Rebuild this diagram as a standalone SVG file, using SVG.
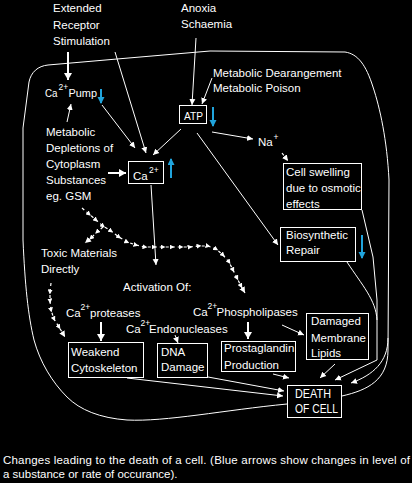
<svg xmlns="http://www.w3.org/2000/svg" width="412" height="483" viewBox="0 0 412 483">
<defs>
<style>
text{fill:#fff;font-family:"Liberation Sans",Arial,sans-serif;font-size:11.5px}
.sup{font-size:8.5px}
.big{font-size:13px}
.box{fill:none;stroke:#fff;stroke-width:1}
.ln{fill:none;stroke:#fff;stroke-width:1}
.thk{fill:none;stroke:#fff;stroke-width:2}
.dot{fill:none;stroke:#fff;stroke-width:1.2;stroke-dasharray:3 3}
.blue{fill:none;stroke:#20a4dc;stroke-width:2}
</style>
<marker id="ah" markerUnits="userSpaceOnUse" markerWidth="7" markerHeight="7" refX="6" refY="3.5" orient="auto"><path d="M0,0.5 L6,3.5 L0,6.5 z" fill="#fff"/></marker>
<marker id="ahb" markerUnits="userSpaceOnUse" markerWidth="8" markerHeight="8" refX="7" refY="4" orient="auto"><path d="M0,0 L7,4 L0,8 z" fill="#fff"/></marker>
<marker id="am" markerUnits="userSpaceOnUse" markerWidth="5" markerHeight="5" refX="2.5" refY="2.5" orient="auto"><path d="M0,0 L5,2.5 L0,5 z" fill="#fff"/></marker>
<marker id="abl" markerUnits="userSpaceOnUse" markerWidth="8" markerHeight="8" refX="6" refY="3.5" orient="auto"><path d="M0,0 L7,3.5 L0,7 z" fill="#20a4dc"/></marker>
</defs>
<rect width="412" height="483" fill="#000"/>

<g id="cell-outline">
<path class="ln" d="M287,404 C225,410 165,422 127,420 C100,418 80,410 67,397 C52,382 40,362 34,340 C28,315 25,285 23,240 L23,128 L29,82 C31,72 38,66 48,65 L117,59 L210,51 L345,52 C358,54 366,65 373,87 C380,108 387,140 389,180 L388,350 C388,380 368,390 342,396"/>
</g>

<g id="connectors">
<line class="thk" x1="68" y1="52" x2="68" y2="80" marker-end="url(#ahb)"/>
<line class="ln" x1="115" y1="52" x2="146" y2="153" marker-end="url(#ah)"/>
<line class="ln" x1="102" y1="105" x2="135" y2="148" marker-end="url(#ah)"/>
<line class="ln" x1="67" y1="122" x2="71" y2="104" marker-end="url(#ah)"/>
<line class="ln" x1="196" y1="38" x2="192" y2="105" stroke-width="1.5" marker-end="url(#ah)"/>
<line class="ln" x1="212" y1="78" x2="202" y2="104" marker-end="url(#ah)"/>
<line class="ln" x1="181" y1="129" x2="153" y2="155" marker-end="url(#ah)"/>
<line class="ln" x1="212" y1="132" x2="253" y2="139" marker-end="url(#ah)"/>
<line class="ln" x1="197" y1="133" x2="278" y2="245" marker-end="url(#ah)"/>
<line class="dot" x1="282" y1="153" x2="288" y2="161" marker-end="url(#ah)"/>
<line class="thk" x1="108" y1="173" x2="126" y2="173" marker-end="url(#ahb)"/>
<line class="ln" x1="151" y1="185" x2="156" y2="265" marker-end="url(#ah)"/>
<line class="thk" x1="101" y1="322" x2="101" y2="341" marker-end="url(#ahb)"/>
<line class="ln" x1="175" y1="335" x2="178" y2="343" marker-end="url(#ah)"/>
<line class="thk" x1="248" y1="322" x2="248" y2="339" marker-end="url(#ahb)"/>
<line class="ln" x1="282" y1="325" x2="304" y2="335" marker-end="url(#ah)"/>
<line class="ln" x1="127" y1="378" x2="283" y2="396" marker-end="url(#ah)"/>
<line class="ln" x1="208" y1="377" x2="284" y2="391" marker-end="url(#ah)"/>
<line class="ln" x1="273" y1="374" x2="289" y2="378" marker-end="url(#ah)"/>
<line class="ln" x1="335" y1="364" x2="320" y2="378" marker-end="url(#ah)"/>
<path class="ln" d="M362,210 L373,257 L377,300 L377,360 L335,380" marker-end="url(#ah)"/>
<path class="ln" d="M347,262 C362,285 376,300 377,320"/>
<path class="ln" d="M388,338 C388,362 373,375 351,383" marker-end="url(#ah)"/>
<path class="dot" d="M82,208 L89,214 L96,220 L103,226 L111,231 L119,237 L127,242 L136,245 L145,247 L154,247 L163,247 L172,247 L181,247 L190,247 L199,246 L208,246 L216,249 L223,255 L229,262 L233,270 L237,278 L241,286 L245,293" marker-mid="url(#am)" marker-end="url(#ah)"/>
<path class="dot" d="M103,227 L97,232 L91,238 L85,243" marker-mid="url(#am)" marker-end="url(#ah)"/>
<path class="dot" d="M51,283 L50,292 L50,301 L51,310 L54,319 L59,327 L65,337" marker-mid="url(#am)" marker-end="url(#ah)"/>
<line class="blue" x1="101" y1="89" x2="101" y2="103" marker-end="url(#abl)"/>
<line class="blue" x1="213" y1="107" x2="213" y2="126" marker-end="url(#abl)"/>
<line class="blue" x1="171" y1="178" x2="171" y2="159" marker-end="url(#abl)"/>
<line class="blue" x1="362" y1="235" x2="362" y2="258" marker-end="url(#abl)"/>
</g>

<g id="extended-receptor"><text x="53" y="12">Extended</text><text x="53" y="28.5">Receptor</text><text x="53" y="45">Stimulation</text></g>
<g id="anoxia"><text x="181" y="12">Anoxia</text><text x="181" y="28">Schaemia</text></g>
<g id="ca-pump"><text x="45" y="97" textLength="12.5" lengthAdjust="spacingAndGlyphs">Ca</text><text class="sup" x="58.5" y="90">2+</text><text x="68.5" y="97" textLength="28.5" lengthAdjust="spacingAndGlyphs">Pump</text></g>
<g id="metabolic-poison"><text x="213" y="77">Metabolic Dearangement</text><text x="213" y="92">Metabolic Poison</text></g>
<g id="atp"><rect class="box" x="179.5" y="105.5" width="27" height="18"/><text x="184" y="120" font-size="12.5" textLength="19" lengthAdjust="spacingAndGlyphs">ATP</text></g>
<g id="na"><text x="258" y="146">Na</text><text class="sup" x="273.5" y="140">+</text></g>
<g id="depletions"><text x="46" y="136">Metabolic</text><text x="46" y="152">Depletions of</text><text x="46" y="168">Cytoplasm</text><text x="46" y="184">Substances</text><text x="46" y="200">eg. GSM</text></g>
<g id="ca"><rect class="box" x="128.5" y="161.5" width="35" height="22"/><text x="133" y="180" font-size="12">Ca</text><text class="sup" x="149" y="173" font-size="9">2+</text></g>
<g id="cell-swelling"><rect class="box" x="283.5" y="163.5" width="78" height="46"/><text x="286" y="176">Cell swelling</text><text x="286" y="192">due to osmotic</text><text x="286" y="208">effects</text></g>
<g id="biosynthetic"><rect class="box" x="280.5" y="227.5" width="75" height="34"/><text x="286" y="239">Biosynthetic</text><text x="286" y="254">Repair</text></g>
<g id="toxic"><text x="41" y="257">Toxic Materials</text><text x="41" y="273">Directly</text></g>
<g id="activation"><text x="123" y="291">Activation Of:</text></g>
<g id="proteases"><text x="66" y="317">Ca</text><text class="sup" x="80.5" y="310">2+</text><text x="90" y="317">proteases</text></g>
<g id="endonucleases"><text x="126" y="333">Ca</text><text class="sup" x="140.5" y="326">2+</text><text x="149" y="333">Endonucleases</text></g>
<g id="phospholipases"><text x="193" y="316">Ca</text><text class="sup" x="207.5" y="309">2+</text><text x="216.5" y="316">Phospholipases</text></g>
<g id="weakend"><rect class="box" x="68.5" y="342.5" width="75" height="35"/><text x="71" y="356">Weakend</text><text x="71" y="372">Cytoskeleton</text></g>
<g id="dna"><rect class="box" x="157.5" y="343.5" width="50" height="34"/><text x="161" y="356">DNA</text><text x="161" y="371">Damage</text></g>
<g id="prostaglandin"><rect class="box" x="221.5" y="341.5" width="74" height="30"/><text x="224" y="352">Prostaglandin</text><text x="224" y="369">Production</text></g>
<g id="membrane"><rect class="box" x="306.5" y="313.5" width="62" height="46"/><text x="311" y="325">Damaged</text><text x="311" y="342">Membrane</text><text x="311" y="357">Lipids</text></g>
<g id="death"><rect class="box" x="287.5" y="385.5" width="54" height="32"/><text class="big" x="295" y="398" textLength="36" lengthAdjust="spacingAndGlyphs">DEATH</text><text class="big" x="295" y="413" textLength="43" lengthAdjust="spacingAndGlyphs">OF CELL</text></g>
<g id="caption"><text x="3" y="464" textLength="407">Changes leading to the death of a cell. (Blue arrows show changes in level of</text><text x="3" y="478">a substance or rate of occurance).</text></g>
</svg>
